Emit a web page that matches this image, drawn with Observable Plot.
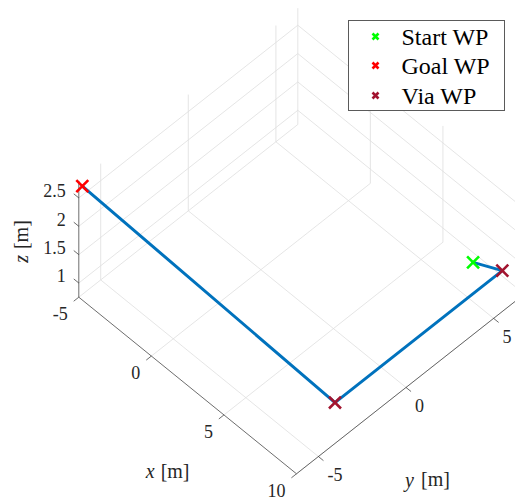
<!DOCTYPE html>
<html>
<head>
<meta charset="utf-8">
<script src="https://cdn.jsdelivr.net/npm/d3@7"></script>
<script src="https://cdn.jsdelivr.net/npm/@observablehq/plot@0.6"></script>
<style>
  html, body { margin: 0; padding: 0; background: #fff; }
  #wrap { position: relative; width: 515px; height: 501px; overflow: hidden; }
  #legend { position: absolute; left: 347.5px; top: 20px; width: 157.5px; height: 91px;
    box-sizing: border-box; border: 1px solid #5a5a5a; background: #fff;
    font-family: "Liberation Serif", "Times New Roman", serif; font-size: 24px; color: #000; }
  .item { position: absolute; left: 0; height: 30px; width: 100%; }
  .item svg { position: absolute; left: 20px; top: 8px; }
  .item span { position: absolute; left: 53px; top: 0; line-height: 30px; white-space: nowrap; }
</style>
</head>
<body>
<div id="wrap">
  <div id="chart"></div>
  <div id="legend"></div>
</div>
<script>
// ---- data ----
const wpNames = ["Start WP", "Via WP", "Via WP", "Goal WP"];
const wpX = [7.5, 8.85, 8.85, -5];
const wpY = [5.9, 6.45, -3.1, -6.05];
const wpZ = [1, 1, 1, 2.66];

const xLim = [-5, 10];
const yLim = [-6.25, 6.25];
const zLim = [0.75, 2.8];
const xTicks = [-5, 0, 5, 10];
const yTicks = [-5, 0, 5];
const zTicks = [1, 1.5, 2, 2.5];
const xTickLabels = ["-5", "0", "5", "10"];
const yTickLabels = ["-5", "0", "5"];
const zTickLabels = ["1", "1.5", "2", "2.5"];

const legendNames = ["Start WP", "Goal WP", "Via WP"];
const legendColors = ["#00ff00", "#ff0000", "#a2142f"];
const wpColor = {"Start WP": "#00ff00", "Goal WP": "#ff0000", "Via WP": "#a2142f"};

// ---- view (orthographic 3D projection of the plot box) ----
const view = {origin: [78.3, 296.7], xEdge: [217.7, 176.6], yEdge: [219, -172.7], zEdge: [0, -116.3]};
function proj(x, y, z) {
  const u = (x - xLim[0]) / (xLim[1] - xLim[0]);
  const v = (y - yLim[0]) / (yLim[1] - yLim[0]);
  const w = (z - zLim[0]) / (zLim[1] - zLim[0]);
  return [view.origin[0] + u * view.xEdge[0] + v * view.yEdge[0] + w * view.zEdge[0],
          view.origin[1] + u * view.xEdge[1] + v * view.yEdge[1] + w * view.zEdge[1]];
}
function seg(a, b) { return {x1: a[0], y1: a[1], x2: b[0], y2: b[1]}; }

const [x0, x1] = xLim, [y0, y1] = yLim, [z0, z1] = zLim;

// grid lines
const grid = [];
for (const x of xTicks) grid.push(seg(proj(x, y0, z0), proj(x, y1, z0)));
for (const y of yTicks) grid.push(seg(proj(x0, y, z0), proj(x1, y, z0)));
for (const y of yTicks) grid.push(seg(proj(x0, y, z0), proj(x0, y, z1)));
for (const z of zTicks) grid.push(seg(proj(x0, y0, z), proj(x0, y1, z)));
for (const x of xTicks) grid.push(seg(proj(x, y1, z0), proj(x, y1, z1)));
for (const z of zTicks) grid.push(seg(proj(x0, y1, z), proj(x1, y1, z)));

// axis lines
const axes = [
  seg(proj(x0, y0, z0), proj(x1, y0, z0)),
  seg(proj(x1, y0, z0), proj(x1, y1, z0)),
  seg(proj(x0, y0, z0), proj(x0, y0, z1))
];

// tick marks (pointing outward along the other axis)
const tickLen = 6.5;
function unit(v) { const l = Math.hypot(v[0], v[1]); return [v[0] / l, v[1] / l]; }
const ux = unit(view.xEdge), uy = unit(view.yEdge);
const ticks = [];
const xTickPts = xTicks.map(x => proj(x, y0, z0));
const yTickPts = yTicks.map(y => proj(x1, y, z0));
const zTickPts = zTicks.map(z => proj(x0, y0, z));
for (const p of xTickPts) ticks.push(seg(p, [p[0] - uy[0] * tickLen, p[1] - uy[1] * tickLen]));
for (const p of yTickPts) ticks.push(seg(p, [p[0] + ux[0] * tickLen, p[1] + ux[1] * tickLen]));
for (const p of zTickPts) ticks.push(seg(p, [p[0] - ux[0] * tickLen, p[1] - ux[1] * tickLen]));

const xLab = xTickPts.map((p, i) => ({x: p[0], y: p[1], t: xTickLabels[i]}));
const yLab = yTickPts.map((p, i) => ({x: p[0], y: p[1], t: yTickLabels[i]}));
const zLab = zTickPts.map((p, i) => ({x: p[0], y: p[1], t: zTickLabels[i]}));

// path
const path = wpNames.map((n, i) => {
  const p = proj(wpX[i], wpY[i], wpZ[i]);
  return {name: n, x: p[0], y: p[1]};
});
const markers = [path[1], path[2], path[0], path[3]];

// axis label anchors
const xMid = proj((x0 + x1) / 2, y0, z0);
const yMid = proj(x1, (y0 + y1) / 2, z0);
const zMid = proj(x0, y0, (z0 + z1) / 2);

const font = "Liberation Serif, Times New Roman, serif";
const gridColor = "#dedede";
const axisColor = "#262626";

const chart = Plot.plot({
  width: 515,
  height: 501,
  margin: 0,
  x: {domain: [0, 515], range: [0, 515], axis: null},
  y: {domain: [0, 501], range: [0, 501], axis: null},
  marks: [
    Plot.link(grid, {x1: "x1", y1: "y1", x2: "x2", y2: "y2", stroke: gridColor, strokeWidth: 0.8}),
    Plot.link(axes, {x1: "x1", y1: "y1", x2: "x2", y2: "y2", stroke: axisColor, strokeWidth: 0.8, strokeOpacity: 0.85}),
    Plot.link(ticks, {x1: "x1", y1: "y1", x2: "x2", y2: "y2", stroke: axisColor, strokeWidth: 0.8, strokeOpacity: 0.85}),
    Plot.text(xLab, {x: "x", y: "y", text: "t", textAnchor: "end", lineAnchor: "middle", dx: -11, dy: 17.5, fontSize: 18, fontFamily: font, fill: "#262626"}),
    Plot.text(yLab, {x: "x", y: "y", text: "t", textAnchor: "start", lineAnchor: "middle", dx: 9, dy: 19, fontSize: 18, fontFamily: font, fill: "#262626"}),
    Plot.text(zLab, {x: "x", y: "y", text: "t", textAnchor: "end", lineAnchor: "middle", dx: -13, dy: -6.5, fontSize: 18, fontFamily: font, fill: "#262626"}),
    // axis labels
    Plot.text([xMid], {x: d => d[0], y: d => d[1], text: () => "x", textAnchor: "end", lineAnchor: "middle", dx: -33, dy: 86, fontSize: 20, fontStyle: "italic", fontFamily: font, fill: "#262626"}),
    Plot.text([xMid], {x: d => d[0], y: d => d[1], text: () => "[m]", textAnchor: "start", lineAnchor: "middle", dx: -27, dy: 86, fontSize: 20, fontFamily: font, fill: "#262626"}),
    Plot.text([yMid], {x: d => d[0], y: d => d[1], text: () => "y", textAnchor: "end", lineAnchor: "middle", dx: 8, dy: 93, fontSize: 20, fontStyle: "italic", fontFamily: font, fill: "#262626"}),
    Plot.text([yMid], {x: d => d[0], y: d => d[1], text: () => "[m]", textAnchor: "start", lineAnchor: "middle", dx: 15, dy: 92, fontSize: 20, fontFamily: font, fill: "#262626"}),
    Plot.text([zMid], {x: d => d[0] - 57, y: d => d[1] + 16, text: () => "z", textAnchor: "end", lineAnchor: "middle", rotate: -90, fontSize: 20, fontStyle: "italic", fontFamily: font, fill: "#262626"}),
    Plot.text([zMid], {x: d => d[0] - 57, y: d => d[1] + 10, text: () => "[m]", textAnchor: "start", lineAnchor: "middle", rotate: -90, fontSize: 20, fontFamily: font, fill: "#262626"}),
    // trajectory
    Plot.line(path, {x: "x", y: "y", stroke: "#0072bd", strokeWidth: 3, curve: "linear"}),
    Plot.dot(markers, {x: "x", y: "y", symbol: "times", r: 5.5, stroke: d => wpColor[d.name], strokeWidth: 2.6})
  ]
});
document.getElementById("chart").appendChild(chart);

// legend
const legend = document.getElementById("legend");
legendNames.forEach((n, i) => {
  const item = document.createElement("div");
  item.className = "item";
  item.style.top = (0.5 + i * 29.8) + "px";
  item.innerHTML = `<svg width="13" height="13" viewBox="-6.5 -6.5 13 13"><path d="M-3,-3L3,3M-3,3L3,-3" stroke="${legendColors[i]}" stroke-width="2.6"/></svg><span>${n}</span>`;
  legend.appendChild(item);
});
</script>
</body>
</html>
